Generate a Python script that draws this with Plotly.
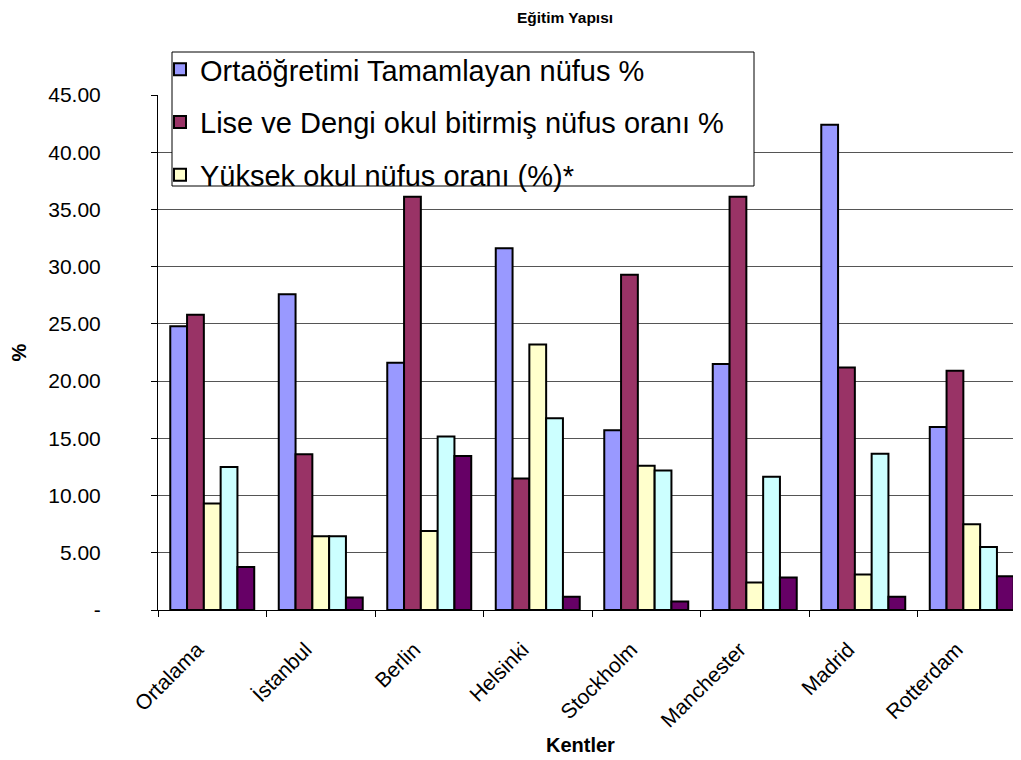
import plotly.graph_objects as go

categories = ["Ortalama", "İstanbul", "Berlin", "Helsinki", "Stockholm", "Manchester", "Madrid", "Rotterdam"]
series_names = [
    "Ortaöğretimi Tamamlayan nüfus %",
    "Lise ve Dengi okul bitirmiş nüfus oranı %",
    "Yüksek okul nüfus oranı (%)*",
    "Seri 4",
    "Seri 5",
]
s1 = [24.8, 27.6, 21.6, 31.6, 15.7, 21.5, 42.4, 16.0]
s2 = [25.8, 13.6, 36.1, 11.5, 29.3, 36.1, 21.2, 20.9]
s3 = [9.3, 6.45, 6.9, 23.2, 12.6, 2.4, 3.1, 7.5]
s4 = [12.5, 6.45, 15.15, 16.75, 12.2, 11.65, 13.65, 5.5]
s5 = [3.75, 1.1, 13.45, 1.15, 0.75, 2.85, 1.15, 2.95]
series_values = [s1, s2, s3, s4, s5]
colors = ["#9999FF", "#993366", "#FFFFCC", "#CCFFFF", "#660066"]
y_tickvals = [0, 5, 10, 15, 20, 25, 30, 35, 40, 45]
y_ticktext = ["-", "5.00", "10.00", "15.00", "20.00", "25.00", "30.00", "35.00", "40.00", "45.00"]
x_title = "Kentler"

fig = go.Figure()
for i, (name, vals, col) in enumerate(zip(series_names, series_values, colors)):
    fig.add_trace(go.Bar(
        x=categories, y=vals, name=name,
        marker=dict(color=col, line=dict(color="black", width=2)),
        showlegend=i < 3, legendgroup=f"g{i}",
    ))

# page body has an 8px default margin: work in reference pixels, shift by OFF
OFF = 8
W, H = 1021 - OFF, 760 - OFF
L, T = 158 - OFF, 95 - OFF
B = H - (610 - OFF)
cat_px = 108.5
plot_w = W - L
plot_h = H - T - B
x_end = -0.5 + plot_w / cat_px


def px_x(p):
    return (p - OFF - L) / plot_w


def px_y(p):
    return (H - B - (p - OFF)) / plot_h


# legend frame (Excel-style box)
fig.add_shape(type="rect", xref="paper", yref="paper",
              x0=px_x(172), x1=px_x(754), y0=px_y(186), y1=px_y(52),
              fillcolor="white", line=dict(color="black", width=1), layer="above")

# x-axis title (placed like the reference, slightly left of plot centre)
fig.add_annotation(text=f"<b>{x_title}</b>", xref="paper", yref="paper",
                   x=px_x(580), y=px_y(745), xanchor="center", yanchor="middle",
                   showarrow=False, font=dict(size=20, color="black"))

fig.update_layout(
    width=W, height=H,
    margin=dict(l=L, r=0, t=T, b=B, autoexpand=False),
    paper_bgcolor="white", plot_bgcolor="white",
    barmode="group", bargap=0.226, bargroupgap=0,
    font=dict(family="Liberation Sans, Arial, sans-serif", color="black"),
    title=dict(text="<b>Eğitim Yapısı</b>", x=(565 - OFF) / W, xref="container", xanchor="center",
               y=1 - (18 - OFF) / H, yref="container", yanchor="middle",
               font=dict(size=15.5, color="black")),
    legend=dict(
        x=px_x(160), y=px_y(44),
        xanchor="left", yanchor="top",
        bgcolor="rgba(0,0,0,0)", borderwidth=0,
        font=dict(size=29, color="black"),
        tracegroupgap=12, traceorder="grouped",
        itemwidth=30,
    ),
)

fig.update_xaxes(
    range=[-0.5, x_end], tickson="boundaries", ticks="outside", ticklen=6,
    tickcolor="black", showline=True, linecolor="black", linewidth=1,
    tickangle=-45, tickfont=dict(size=21, color="black"),
    ticklabelstandoff=18, ticklabelshift=-15,
    showgrid=False,
)
fig.update_yaxes(
    range=[0, 45], tickvals=y_tickvals, ticktext=y_ticktext,
    ticks="outside", ticklen=6, tickcolor="black",
    showline=True, linecolor="black", linewidth=1,
    showgrid=True, gridcolor="#555555", gridwidth=1,
    tickfont=dict(size=21, color="black"), ticklabelstandoff=46,
    zeroline=False,
    title=dict(text="<b>%</b>", font=dict(size=20, color="black"), standoff=16),
)

fig.write_html("out.html")
